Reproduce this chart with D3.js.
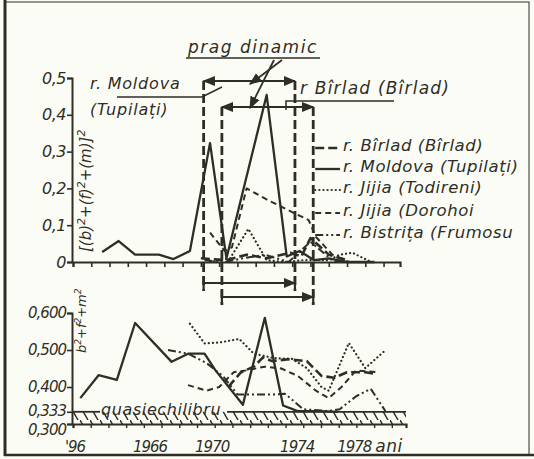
<!DOCTYPE html>
<html>

<head>
    <meta charset="UTF-8">
    <style>
        body { margin: 0; background: #fcfcf7; }
        text { font-family: "DejaVu Sans", sans-serif; font-style: italic; fill: #2e2e24; }
    </style>
</head>

<body>
    <script src="https://d3js.org/d3.v7.min.js"></script>
    <div id="chart"></div>
    <script>
        // series names (legend order)
        const seriesNames = ["r. Bîrlad (Bîrlad)", "r. Moldova (Tupilați)", "r. Jijia (Todireni)", "r. Jijia (Dorohoi", "r. Bistrița (Frumosu"];

        // upper panel: (b)^2+(f)^2+(m)^2  [year, value]
        const topBirlad = [[1969.0, 0.01], [1970.4, 0.005], [1971.5, 0.02], [1972.6, 0.01], [1973.9, 0.025], [1974.5, 0.015], [1975.0, 0.065], [1976.0, 0.02], [1977.0, 0.005]];
        const topMoldova = [[1963.6, 0.027], [1964.5, 0.057], [1965.4, 0.02], [1966.7, 0.02], [1967.5, 0.008], [1968.4, 0.03], [1969.5, 0.323], [1970.4, 0.01], [1972.6, 0.454], [1973.7, 0.015], [1974.4, 0.03], [1975.2, 0.005], [1976.0, 0.01], [1977.0, 0.0], [1978.5, 0.0]];
        const topTodireni = [[1969.5, 0.0], [1970.6, 0.01], [1971.6, 0.09], [1972.6, 0.005], [1973.6, 0.0], [1974.6, 0.005], [1976.0, 0.005], [1976.6, 0.02], [1977.3, 0.025], [1978.2, 0.003]];
        const topDorohoi = [[1969.5, 0.08], [1970.3, 0.03], [1970.7, 0.04], [1971.5, 0.2], [1972.6, 0.17], [1974.1, 0.133], [1974.9, 0.114], [1975.3, 0.068], [1976.2, 0.02], [1977.1, 0.0]];
        const topBistrita = [[1969.2, 0.005], [1970.3, 0.0], [1971.3, 0.01], [1972.5, 0.02], [1973.8, 0.0], [1975.0, 0.055], [1976.3, 0.0], [1977.0, 0.0]];

        // lower panel: b^2+f^2+m^2
        const botBirlad = [[1970.5, 0.40], [1971.2, 0.44], [1971.9, 0.455], [1972.4, 0.48], [1972.9, 0.47], [1973.8, 0.475], [1974.8, 0.47], [1975.6, 0.43], [1976.3, 0.425], [1977.0, 0.44], [1978.0, 0.44], [1978.6, 0.435]];
        const botMoldova = [[1962.4, 0.37], [1963.4, 0.432], [1964.4, 0.419], [1965.4, 0.573], [1967.4, 0.468], [1968.3, 0.49], [1969.2, 0.49], [1969.8, 0.445], [1971.3, 0.352], [1972.5, 0.587], [1973.5, 0.35], [1974.3, 0.335], [1975.5, 0.335], [1976.5, 0.333]];
        const botTodireni = [[1968.4, 0.571], [1969.2, 0.518], [1970.0, 0.52], [1971.1, 0.53], [1971.9, 0.49], [1973.0, 0.478], [1974.0, 0.476], [1974.8, 0.451], [1975.6, 0.40], [1976.0, 0.39], [1977.1, 0.519], [1978.0, 0.451], [1979.0, 0.495]];
        const botDorohoi = [[1968.3, 0.405], [1969.3, 0.39], [1970.0, 0.40], [1970.8, 0.44], [1971.5, 0.445], [1972.5, 0.455], [1973.4, 0.45], [1974.3, 0.43], [1975.3, 0.39], [1976.0, 0.37], [1976.7, 0.40], [1977.5, 0.445], [1978.6, 0.44]];
        const botBistrita = [[1967.2, 0.50], [1968.3, 0.49], [1969.3, 0.465], [1970.2, 0.43], [1971.0, 0.38], [1972.0, 0.38], [1973.0, 0.38], [1973.6, 0.382], [1974.6, 0.34], [1976.0, 0.335], [1976.6, 0.34], [1977.5, 0.375], [1978.3, 0.395], [1979.1, 0.335]];

        // "prag dinamic" periods: Moldova, Birlad
        const pragMoldova = [1969.15, 1974.15];
        const pragBirlad = [1970.15, 1975.15];

        // tick labels
        const topTicks = [0, 0.1, 0.2, 0.3, 0.4, 0.5];
        const topTickLabels = ["0", "0,1", "0,2", "0,3", "0,4", "0,5"];
        const botTicks = [0.3, 0.333, 0.4, 0.5, 0.6];
        const botTickLabels = ["0,300", "0,333", "0,400", "0,500", "0,600"];
        const yearTicks = [1962, 1966, 1970, 1974, 1978];
        const yearLabels = ["'96", "1966", "1970", "1974", "1978"];

        const ink = "#2e2e24";
        const W = 534, H = 459;

        const svg = d3.select("#chart")
            .append("svg")
            .attr("width", W)
            .attr("height", H);

        // frame
        svg.append("rect").attr("x", 5).attr("y", 2).attr("width", 524).attr("height", 453)
            .attr("fill", "none").attr("stroke", ink).attr("stroke-width", 1);
        svg.append("line").attr("x1", 5).attr("x2", 5).attr("y1", 0).attr("y2", 456)
            .attr("stroke", ink).attr("stroke-width", 3);
        svg.append("line").attr("x1", 4).attr("x2", 534).attr("y1", 455).attr("y2", 455)
            .attr("stroke", ink).attr("stroke-width", 2.5);

        // scales
        const x = d3.scaleLinear().domain([1962, 1979.9]).range([73, 400]);
        const xb = d3.scaleLinear().domain([1962, 1980.8]).range([73, 406]);
        const yTop = d3.scaleLinear().domain([0, 0.5]).range([262, 78]);
        const yBot = d3.scaleLinear().domain([0.3, 0.6]).range([424, 313]);

        // hatch pattern for quasi-equilibrium band
        const defs = svg.append("defs");
        const pat = defs.append("pattern").attr("id", "hatch").attr("patternUnits", "userSpaceOnUse")
            .attr("width", 10).attr("height", 14);
        pat.append("line").attr("x1", 0).attr("y1", 0).attr("x2", 8).attr("y2", 14)
            .attr("stroke", ink).attr("stroke-width", 1.5);

        const styles = [
            { w: 2.6, dash: "9,4", cap: "butt" },
            { w: 2.3, dash: null, cap: "butt" },
            { w: 2.2, dash: "0.1,4", cap: "round" },
            { w: 2.0, dash: "6,4", cap: "butt" },
            { w: 2.0, dash: "8,3,2,3,2,3", cap: "butt" }
        ];

        function drawSeries(g, list, xs, ys) {
            list.forEach(function (s, i) {
                const line = d3.line().x(d => xs(d[0])).y(d => ys(d[1]));
                g.append("path")
                    .datum(s)
                    .attr("d", line)
                    .attr("fill", "none")
                    .attr("stroke", ink)
                    .attr("stroke-width", styles[i].w)
                    .attr("stroke-dasharray", styles[i].dash)
                    .attr("stroke-linecap", styles[i].cap)
                    .attr("stroke-linejoin", "round");
            });
        }

        // ---------- upper panel ----------
        const gTop = svg.append("g");

        gTop.append("g")
            .attr("transform", "translate(72,0)")
            .call(d3.axisLeft(yTop).tickValues(topTicks).tickSize(5).tickFormat((d, i) => topTickLabels[i]))
            .call(g => g.select(".domain").attr("stroke", ink).attr("stroke-width", 2))
            .call(g => g.selectAll(".tick line").attr("stroke", ink).attr("stroke-width", 1.6))
            .call(g => g.selectAll(".tick text").attr("x", -6).attr("font-size", 16).attr("font-family", null)
                .attr("letter-spacing", -0.5).attr("fill", ink));

        gTop.append("g")
            .attr("transform", "translate(0,262)")
            .call(d3.axisBottom(x).tickValues(d3.range(1962, 1980)).tickSize(5).tickFormat(""))
            .call(g => g.select(".domain").attr("stroke", ink).attr("stroke-width", 2.2))
            .call(g => g.selectAll(".tick line").attr("stroke", ink).attr("stroke-width", 1.6));

        drawSeries(gTop, [topBirlad, topMoldova, topTodireni, topDorohoi, topBistrita], x, yTop);

        // y label upper
        const ylab = gTop.append("text")
            .attr("transform", "translate(91,252) rotate(-90)")
            .attr("font-size", 15);
        ylab.append("tspan").text("[(b)");
        ylab.append("tspan").attr("baseline-shift", "super").attr("font-size", 11).text("2");
        ylab.append("tspan").text("+(f)");
        ylab.append("tspan").attr("baseline-shift", "super").attr("font-size", 11).text("2");
        ylab.append("tspan").text("+(m)]");
        ylab.append("tspan").attr("baseline-shift", "super").attr("font-size", 11).text("2");

        // "prag dinamic" annotation
        const ann = svg.append("g").attr("stroke", ink).attr("fill", "none").attr("stroke-width", 1.8);
        ann.append("text").attr("x", 188).attr("y", 53).attr("font-size", 17).attr("stroke", "none")
            .attr("letter-spacing", 1.5).attr("fill", ink).text("prag  dinamic");
        ann.append("line").attr("x1", 186).attr("x2", 320).attr("y1", 58).attr("y2", 58).attr("stroke-width", 1.5);

        const arrowHead = defs.append("marker").attr("id", "arr").attr("viewBox", "0 0 10 10")
            .attr("refX", 9).attr("refY", 5).attr("markerWidth", 7).attr("markerHeight", 7).attr("orient", "auto-start-reverse");
        arrowHead.append("path").attr("d", "M0,1 L10,5 L0,9 Z").attr("fill", ink);

        ann.append("line").attr("x1", 282).attr("y1", 60).attr("x2", 250).attr("y2", 84).attr("marker-end", "url(#arr)");
        ann.append("line").attr("x1", 274).attr("y1", 60).attr("x2", 250).attr("y2", 108).attr("marker-end", "url(#arr)");

        // threshold brackets & vertical dashed lines
        const yBrTop = [81, 107], yBrBot = [283, 297];
        [pragMoldova, pragBirlad].forEach(function (p, i) {
            ann.append("line").attr("x1", x(p[0])).attr("x2", x(p[1])).attr("y1", yBrTop[i]).attr("y2", yBrTop[i])
                .attr("marker-start", "url(#arr)").attr("marker-end", "url(#arr)");
            ann.append("line").attr("x1", x(p[0])).attr("x2", x(p[1])).attr("y1", yBrBot[i]).attr("y2", yBrBot[i])
                .attr("marker-end", "url(#arr)");
            p.forEach(function (yr) {
                ann.append("line").attr("x1", x(yr)).attr("x2", x(yr)).attr("y1", yBrTop[i]).attr("y2", yBrBot[i] + 8)
                    .attr("stroke-width", 2.8).attr("stroke-dasharray", "9,4");
                ann.append("line").attr("x1", x(yr)).attr("x2", x(yr)).attr("y1", yBrBot[i] - 6).attr("y2", yBrBot[i] + 6)
                    .attr("stroke-width", 2.2);
            });
        });

        // labels with leaders
        svg.append("text").attr("x", 90).attr("y", 89).attr("font-size", 16).attr("letter-spacing", 0.8).text("r. Moldova");
        svg.append("text").attr("x", 90).attr("y", 115).attr("font-size", 16).attr("letter-spacing", 0.8).text("(Tupilați)");
        ann.append("polyline").attr("points", "117,97 202,97 222,87").attr("stroke-width", 1.5);
        svg.append("text").attr("x", 300).attr("y", 94).attr("font-size", 17).attr("letter-spacing", 1.2).text("r Bîrlad (Bîrlad)");
        ann.append("polyline").attr("points", "286,110 286,101 394,101").attr("stroke-width", 1.5);

        // legend
        const legY = [148, 169, 190, 213, 235];
        seriesNames.forEach(function (n, i) {
            svg.append("line").attr("x1", x(pragBirlad[1]) + 2).attr("x2", 340).attr("y1", legY[i]).attr("y2", legY[i])
                .attr("stroke", ink).attr("stroke-width", styles[i].w)
                .attr("stroke-dasharray", styles[i].dash).attr("stroke-linecap", styles[i].cap);
            svg.append("text").attr("x", 343).attr("y", legY[i] + 3).attr("font-size", 16.5)
                .attr("letter-spacing", 0.6).text(n);
        });

        // ---------- lower panel ----------
        const gBot = svg.append("g");

        // quasi-equilibrium band
        gBot.append("rect").attr("x", 72).attr("y", yBot(0.333)).attr("width", 334).attr("height", yBot(0.3) - yBot(0.333))
            .attr("fill", "url(#hatch)");
        gBot.append("line").attr("x1", 72).attr("x2", 100).attr("y1", yBot(0.333)).attr("y2", yBot(0.333))
            .attr("stroke", ink).attr("stroke-width", 1.8);
        gBot.append("line").attr("x1", 227).attr("x2", 406).attr("y1", yBot(0.333)).attr("y2", yBot(0.333))
            .attr("stroke", ink).attr("stroke-width", 1.8);
        gBot.append("text").attr("x", 101).attr("y", yBot(0.333) + 3).attr("font-size", 16).attr("letter-spacing", 0.6)
            .text("quasiechilibru");

        // shift of the two crowded labels at the bottom of the axis
        const botLabelDy = [6, -1, 0, 0, 0];
        gBot.append("g")
            .attr("transform", "translate(72,0)")
            .call(d3.axisLeft(yBot).tickValues(botTicks).tickSize(5).tickFormat((d, i) => botTickLabels[i]))
            .call(g => g.select(".domain").attr("stroke", ink).attr("stroke-width", 2))
            .call(g => g.selectAll(".tick line").attr("stroke", ink).attr("stroke-width", 1.6))
            .call(g => g.selectAll(".tick text").attr("x", -6).attr("font-size", 15).attr("font-family", null)
                .attr("letter-spacing", -1).attr("fill", ink)
                .attr("dy", (d, i) => (0.32 + botLabelDy[i] / 15) + "em"));

        gBot.append("g")
            .attr("transform", "translate(0,424)")
            .call(d3.axisBottom(xb).tickValues(d3.range(1962, 1981)).tickSize(4).tickFormat(""))
            .call(g => g.select(".domain").attr("stroke", ink).attr("stroke-width", 2.2))
            .call(g => g.selectAll(".tick line").attr("stroke", ink).attr("stroke-width", 1.4));

        const yearDx = [2, 4, -7, 5, -11];
        gBot.selectAll(".yearlab")
            .data(yearTicks)
            .enter()
            .append("text")
            .attr("x", (d, i) => x(d) + yearDx[i])
            .attr("y", 452)
            .attr("text-anchor", "middle")
            .attr("font-size", 15)
            .attr("letter-spacing", -1)
            .text((d, i) => yearLabels[i]);
        gBot.append("text").attr("x", x(1978) + 10).attr("y", 452).attr("font-size", 17).attr("letter-spacing", 0.5).text("ani");

        drawSeries(gBot, [botBirlad, botMoldova, botTodireni, botDorohoi, botBistrita], x, yBot);

        const ylab2 = gBot.append("text")
            .attr("transform", "translate(86,353) rotate(-90)")
            .attr("font-size", 13);
        ylab2.append("tspan").text("b");
        ylab2.append("tspan").attr("baseline-shift", "super").attr("font-size", 9).text("2");
        ylab2.append("tspan").text("+f");
        ylab2.append("tspan").attr("baseline-shift", "super").attr("font-size", 9).text("2");
        ylab2.append("tspan").text("+m");
        ylab2.append("tspan").attr("baseline-shift", "super").attr("font-size", 9).text("2");
    </script>
</body>

</html>
